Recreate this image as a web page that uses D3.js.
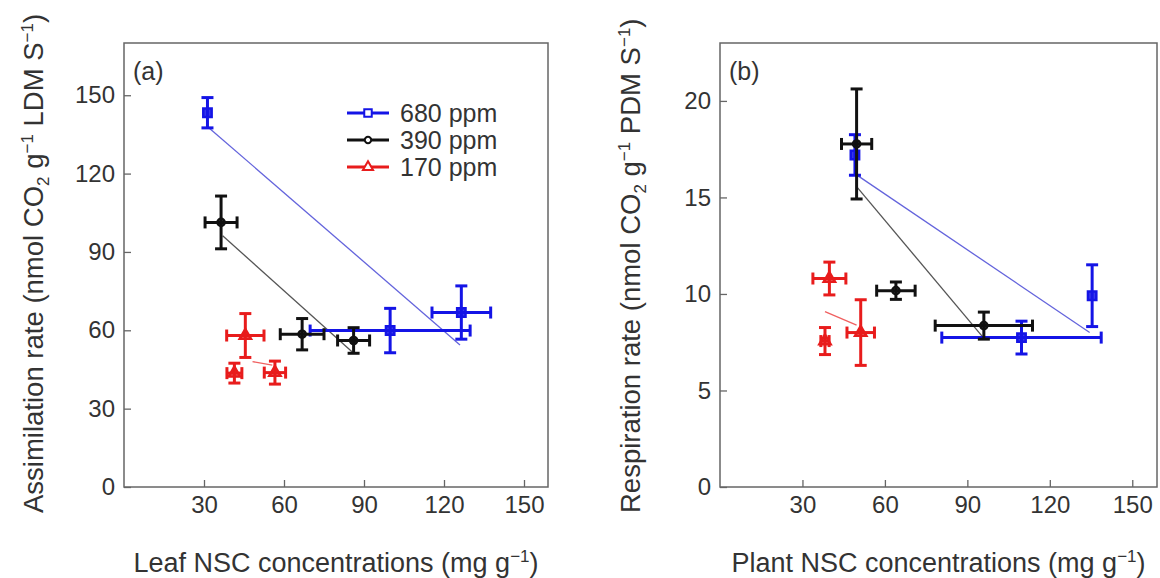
<!DOCTYPE html>
<html>
<head>
<meta charset="utf-8">
<script src="https://cdn.jsdelivr.net/npm/d3@7"></script>
<style>
  body { margin: 0; background: #fff; }
  svg text { font-family: "Liberation Sans", Arial, sans-serif; fill: #333; }
</style>
</head>
<body>
<div id="chart"></div>
<script>
// series + ticks
const series = ["680 ppm", "390 ppm", "170 ppm"];
const colors = ["#1414e6", "#111111", "#e81c1c"];
const fitColors = ["#6464dc", "#555555", "#f06060"];
const xTicks = [30, 60, 90, 120, 150];
const yTicksA = [0, 30, 60, 90, 120, 150];
const yTicksB = [0, 5, 10, 15, 20];

// panel (a): leaf NSC vs assimilation, one row per series
const leafNSC    = [[31.3, 99.8, 126.5], [36.4, 66.8, 86.1], [45.5, 41.4, 56.6]];
const leafNSCErr = [[0, 30, 11], [6, 8.2, 6], [7, 2.8, 4]];
const assim      = [[143.3, 59.9, 66.8], [101.3, 58.5, 56.1], [58, 43.6, 43.8]];
const assimErr   = [[5.8, 8.5, 10.2], [10.1, 6, 4.9], [8.4, 3.8, 4.4]];
const fitA       = [[32, 137.4, 126, 54.4], [37, 96.2, 85.5, 51.8], [48.2, 48, 55.6, 46.7]];

// panel (b): plant NSC vs respiration
const plantNSC    = [[49.1, 109.7, 135.4], [49.7, 64, 96], [39.8, 38.2, 51.2]];
const plantNSCErr = [[0, 29, 0], [5.5, 7, 17.7], [6, 1.5, 5]];
const resp        = [[17.2, 7.74, 9.91], [17.77, 10.17, 8.36], [10.8, 7.56, 8.0]];
const respErr     = [[1.05, 0.85, 1.6], [2.85, 0.45, 0.7], [0.85, 0.7, 1.7]];
const fitB        = [[49.7, 16.17, 134.5, 8.0], [49.7, 15.56, 95.5, 7.79], [38.2, 9.08, 49.7, 8.39]];

const W = 1160, H = 578;
const svg = d3.select("#chart").append("svg")
  .attr("width", W).attr("height", H);

const symbols = [d3.symbolSquare, d3.symbolCircle, d3.symbolTriangle];
const symSize = [70, 40, 55];

function drawPanel(opt) {
  const x = d3.scaleLinear().domain([0, 159]).range([opt.left, opt.right]);
  const y = d3.scaleLinear().domain([0, opt.ymax]).range([487, 43]);

  const g = svg.append("g");

  // axes (ticks inside)
  const ax = g.append("g").attr("transform", "translate(0,487)")
    .call(d3.axisBottom(x).tickValues(xTicks).tickSizeInner(-7).tickSizeOuter(0).tickPadding(9));
  const ay = g.append("g").attr("transform", `translate(${opt.left},0)`)
    .call(d3.axisLeft(y).tickValues(opt.yTicks).tickSizeInner(-7).tickSizeOuter(0).tickPadding(9));
  [ax, ay].forEach(a => {
    a.select(".domain").remove();
    a.selectAll("line").attr("stroke", "#666").attr("stroke-width", 1.3);
    a.selectAll("text").style("font-size", "24px").attr("fill", "#333");
  });

  // frame
  g.append("rect")
    .attr("x", opt.left).attr("y", 43)
    .attr("width", opt.right - opt.left).attr("height", 487 - 43)
    .attr("fill", "none").attr("stroke", "#666").attr("stroke-width", 1.5);

  // fit lines
  opt.fit.forEach((f, i) => {
    g.append("line")
      .attr("x1", x(f[0])).attr("y1", y(f[1]))
      .attr("x2", x(f[2])).attr("y2", y(f[3]))
      .attr("stroke", fitColors[i]).attr("stroke-width", 1.3);
  });

  // error bars + markers
  const cap = 6;
  opt.xs.forEach((xs, i) => {
    xs.forEach((xv, j) => {
      const cx = x(xv), cy = y(opt.ys[i][j]);
      const ex = opt.xe[i][j], ey = opt.ye[i][j];
      const c = colors[i];
      const eb = g.append("g").attr("stroke", c).attr("stroke-width", 3).attr("fill", "none");
      if (ey > 0) {
        const y1 = y(opt.ys[i][j] + ey), y2 = y(opt.ys[i][j] - ey);
        eb.append("line").attr("x1", cx).attr("x2", cx).attr("y1", y1).attr("y2", y2);
        eb.append("line").attr("x1", cx - cap).attr("x2", cx + cap).attr("y1", y1).attr("y2", y1);
        eb.append("line").attr("x1", cx - cap).attr("x2", cx + cap).attr("y1", y2).attr("y2", y2);
      }
      if (ex > 0) {
        const x1 = x(xv - ex), x2 = x(xv + ex);
        eb.append("line").attr("y1", cy).attr("y2", cy).attr("x1", x1).attr("x2", x2);
        eb.append("line").attr("y1", cy - cap).attr("y2", cy + cap).attr("x1", x1).attr("x2", x1);
        eb.append("line").attr("y1", cy - cap).attr("y2", cy + cap).attr("x1", x2).attr("x2", x2);
      }
      g.append("path")
        .attr("d", d3.symbol(symbols[i], symSize[i])())
        .attr("transform", `translate(${cx},${cy})`)
        .attr("fill", c).attr("fill-opacity", i === 0 ? 0.85 : 0.6)
        .attr("stroke", c).attr("stroke-width", 2.5);
    });
  });

  // panel label
  g.append("text")
    .attr("x", opt.left + 9).attr("y", 80)
    .style("font-size", "25px").attr("fill", "#222")
    .text(opt.label);

  // x title
  const xt = g.append("text")
    .attr("x", (opt.left + opt.right) / 2).attr("y", 572)
    .attr("text-anchor", "middle").style("font-size", "27px");
  xt.append("tspan").text(opt.xTitle + " (mg g");
  xt.append("tspan").attr("dy", -10).style("font-size", "17px").text("\u22121");
  xt.append("tspan").attr("dy", 10).text(")");

  // y title (rotated)
  const yt = g.append("text")
    .attr("transform", `translate(${opt.ytX},513) rotate(-90)`)
    .attr("text-anchor", "start").style("font-size", "27.5px");
  yt.append("tspan").text(opt.yTitle + " (nmol CO");
  yt.append("tspan").attr("dy", 6).style("font-size", "17px").text("2");
  yt.append("tspan").attr("dy", -6).text(" g");
  yt.append("tspan").attr("dy", -10).style("font-size", "17px").text("\u22121");
  yt.append("tspan").attr("dy", 10).text(" " + opt.unit + " S");
  yt.append("tspan").attr("dy", -10).style("font-size", "17px").text("\u22121");
  yt.append("tspan").attr("dy", 10).text(")");

  return { x, y, g };
}

const pa = drawPanel({
  left: 124, right: 548, ymax: 170, yTicks: yTicksA,
  xs: leafNSC, xe: leafNSCErr, ys: assim, ye: assimErr, fit: fitA,
  label: "(a)", xTitle: "Leaf NSC concentrations",
  yTitle: "Assimilation rate", unit: "LDM", ytX: 43
});

drawPanel({
  left: 720, right: 1157, ymax: 23, yTicks: yTicksB,
  xs: plantNSC, xe: plantNSCErr, ys: resp, ye: respErr, fit: fitB,
  label: "(b)", xTitle: "Plant NSC concentrations",
  yTitle: "Respiration rate", unit: "PDM", ytX: 640
});

// legend in panel (a)
const leg = pa.g.append("g");
series.forEach((s, i) => {
  const ly = 113 + i * 27;
  leg.append("line").attr("x1", 347).attr("x2", 389).attr("y1", ly).attr("y2", ly)
    .attr("stroke", colors[i]).attr("stroke-width", 3);
  leg.append("path")
    .attr("d", d3.symbol(symbols[i], symSize[i] * 0.8)())
    .attr("transform", `translate(368,${ly})`)
    .attr("fill", "#fff").attr("stroke", colors[i]).attr("stroke-width", 2);
  leg.append("text").attr("x", 400).attr("y", ly).attr("dy", "0.36em")
    .style("font-size", "25px").text(s);
});
</script>
</body>
</html>
